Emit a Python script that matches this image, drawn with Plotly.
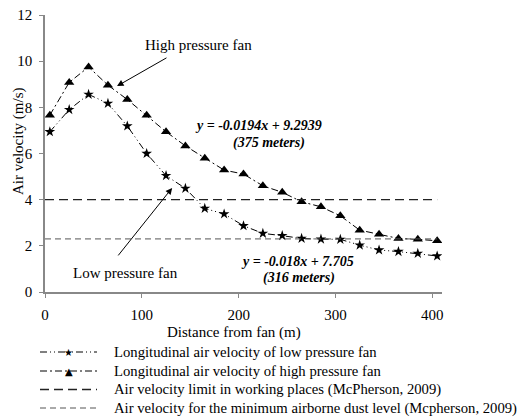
import plotly.graph_objects as go

distance = [5, 25, 45, 65, 85, 105, 125, 145, 165, 185, 205, 225, 245, 265, 285, 305, 325, 345, 365, 385, 405]
low_fan = [6.94, 7.90, 8.56, 8.17, 7.19, 6.00, 5.04, 4.49, 3.62, 3.38, 2.87, 2.54, 2.44, 2.32, 2.29, 2.28, 2.03, 1.82, 1.75, 1.67, 1.56]
high_fan = [7.66, 9.08, 9.75, 8.96, 8.34, 7.66, 6.94, 6.33, 5.79, 5.28, 5.11, 4.60, 4.32, 3.91, 3.69, 3.30, 2.68, 2.50, 2.32, 2.28, 2.22]
limit_x = [0, 405]
limit_working = 4.0
limit_dust = 2.3

x_ticks = [0, 100, 200, 300, 400]
y_ticks = [0, 2, 4, 6, 8, 10, 12]

series_names = [
    "Longitudinal air velocity of low pressure fan",
    "Longitudinal air velocity of high pressure fan",
    "Air velocity limit in working places (McPherson, 2009)",
    "Air velocity for the minimum airborne dust level (Mcpherson, 2009)",
]

FONT = "Times New Roman, Liberation Serif, serif"
W, H = 532, 419
L, R, T, B = 45, 90, 15, 127
PW, PH = W - L - R, H - T - B

def px(x):
    return (x - L) / PW

def py(y):
    return (H - B - y) / PH

styles = [
    dict(color="black", width=1, dash="7px,3px,1px,3px,1px,3px"),
    dict(color="black", width=1, dash="7px,3px,2px,3px"),
    dict(color="#222", width=1.3, dash="9px,5px"),
    dict(color="#555", width=1, dash="6px,4px"),
]

fig = go.Figure()
fig.add_trace(go.Scatter(x=distance, y=low_fan, mode="lines+markers", name=series_names[0],
                         line=styles[0], marker=dict(symbol="star", size=8, color="black")))
fig.add_trace(go.Scatter(x=distance, y=high_fan, mode="lines+markers", name=series_names[1],
                         line=styles[1], marker=dict(symbol="triangle-up", size=9, color="black")))
fig.add_trace(go.Scatter(x=limit_x, y=[limit_working] * 2, mode="lines", name=series_names[2],
                         line=styles[2]))
fig.add_trace(go.Scatter(x=limit_x, y=[limit_dust] * 2, mode="lines", name=series_names[3],
                         line=styles[3]))

txt_font = dict(family=FONT, size=15, color="black")
bi_font = dict(family=FONT, size=14, color="black")

def paper_text(x, y, text, font, **kw):
    kw.setdefault("xanchor", "center")
    fig.add_annotation(x=px(x), y=py(y), xref="paper", yref="paper", text=text, showarrow=False,
                       font=font, yanchor="middle", **kw)

# callouts
paper_text(198, 45, "High pressure fan", txt_font)
fig.add_annotation(x=74.4, y=8.92, ax=127, ay=10.18, axref="x", ayref="y", text="",
                   showarrow=True, arrowhead=2, arrowsize=1.3, arrowwidth=1, arrowcolor="black")
paper_text(125, 273, "Low pressure fan", txt_font)
fig.add_annotation(x=131.3, y=4.51, ax=74.4, ay=1.52, axref="x", ayref="y", text="",
                   showarrow=True, arrowhead=2, arrowsize=1.3, arrowwidth=1, arrowcolor="black")

fig.add_annotation(x=221, y=7.23, text="<b><i>y = -0.0194x + 9.2939</i></b>", showarrow=False, font=bi_font)
fig.add_annotation(x=231, y=6.45, text="<b><i>(375 meters)</i></b>", showarrow=False, font=bi_font)
fig.add_annotation(x=261, y=1.34, text="<b><i>y = -0.018x + 7.705</i></b>", showarrow=False, font=bi_font)
fig.add_annotation(x=262, y=0.6, text="<b><i>(316 meters)</i></b>", showarrow=False, font=bi_font)

# axis titles
paper_text(234, 333, "Distance from fan (m)", txt_font)
paper_text(18, 142, "Air velocity (m/s)", txt_font, textangle=-90)

# legend (drawn below the axes)
rows = [352, 371, 389.5, 408]
glyphs = ["★", "▲", None, None]
for name, style, g, ry in zip(series_names, styles, glyphs, rows):
    fig.add_shape(type="line", xref="paper", yref="paper", x0=px(40), x1=px(97), y0=py(ry), y1=py(ry),
                  line=style)
    if g:
        paper_text(68.5, ry, g, dict(family="DejaVu Sans", size=10, color="black"))
    paper_text(112, ry, name, dict(family=FONT, size=14.7, color="black"), xanchor="left")

fig.update_layout(
    width=W, height=H,
    margin=dict(l=L, r=R, t=T, b=B, autoexpand=False),
    plot_bgcolor="white", paper_bgcolor="white",
    font=dict(family=FONT, size=15, color="black"),
    showlegend=False,
    xaxis=dict(range=[0, 410], tickvals=x_ticks, showgrid=False, zeroline=False,
               showline=True, linecolor="#888", linewidth=1.5, ticks="outside",
               ticklen=4, tickcolor="#888", ticklabelstandoff=4),
    yaxis=dict(range=[0, 12], tickvals=y_ticks, showgrid=False, zeroline=False,
               showline=True, linecolor="#888", linewidth=1.5, ticks="outside",
               ticklen=4, tickcolor="#888", ticklabelstandoff=4),
)

fig.write_html("out.html")
